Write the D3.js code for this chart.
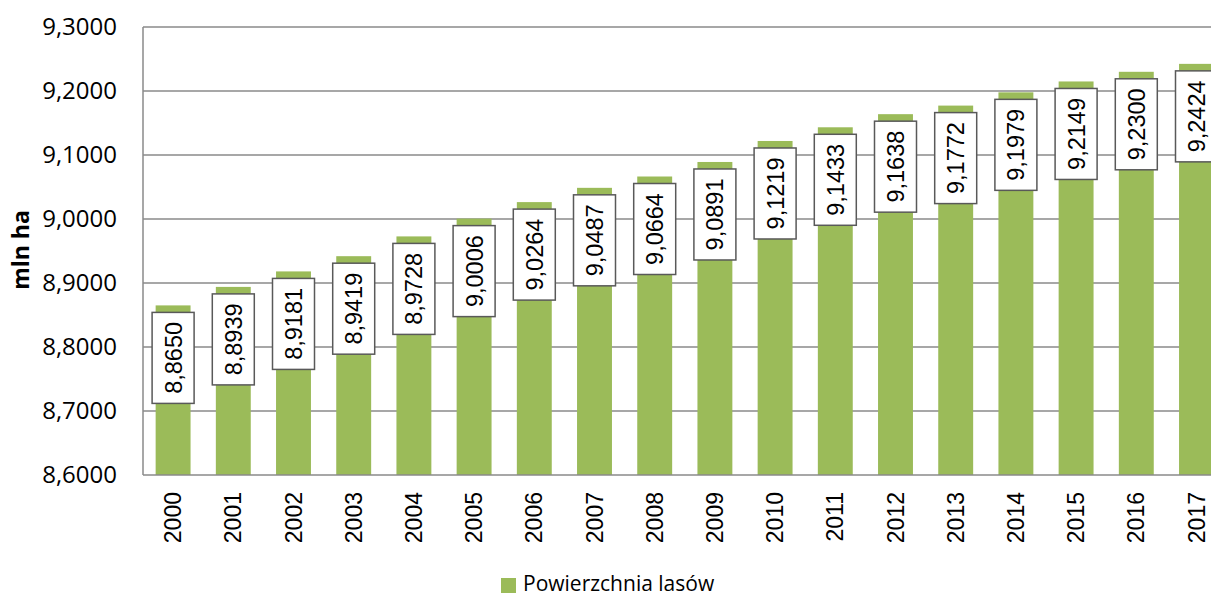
<!DOCTYPE html>
<html>
<head>
<meta charset="utf-8">
<script src="https://cdn.jsdelivr.net/npm/d3@7"></script>
<style>
  body { margin: 0; background: #fff; }
  svg { display: block; }
</style>
</head>
<body>
<div id="chart"></div>
<script>
// data
var years = ["2000","2001","2002","2003","2004","2005","2006","2007","2008",
             "2009","2010","2011","2012","2013","2014","2015","2016","2017"];
var forestArea = [8.8650, 8.8939, 8.9181, 8.9419, 8.9728, 9.0006, 9.0264, 9.0487, 9.0664,
                  9.0891, 9.1219, 9.1433, 9.1638, 9.1772, 9.1979, 9.2149, 9.2300, 9.2424];
var yTicks = [8.6, 8.7, 8.8, 8.9, 9.0, 9.1, 9.2, 9.3];
var seriesName = "Powierzchnia lasów";
var yTitle = "mln ha";

var width = 1211;
var height = 597;
var plotLeft = 143;
var plotTop = 27;
var plotBottom = 475;

var svg = d3.select("#chart")
    .append("svg")
    .attr("width", width)
    .attr("height", height);

var fmt = function(v) {
    return v.toFixed(4).replace(".", ",");
};

// scales
var xScale = d3.scaleBand()
    .domain(years)
    .range([plotLeft, plotLeft + 18 * 60.2])
    .paddingInner(0.42)
    .paddingOuter(0.21);

var yScale = d3.scaleLinear()
    .domain([8.6, 9.3])
    .range([plotBottom, plotTop]);

// gridlines
svg.append("g")
    .selectAll("line")
    .data(yTicks.slice(1))
    .enter()
    .append("line")
    .attr("x1", plotLeft)
    .attr("x2", width)
    .attr("y1", function(d) { return yScale(d); })
    .attr("y2", function(d) { return yScale(d); })
    .attr("stroke", "#8a8a8a")
    .attr("stroke-width", 1.5);

// y axis
var yAxis = d3.axisLeft(yScale)
    .tickValues(yTicks)
    .tickFormat(fmt)
    .tickSize(0)
    .tickPadding(26);

var yG = svg.append("g")
    .attr("transform", `translate(${plotLeft}, 0)`)
    .call(yAxis);
yG.select(".domain").remove();
yG.selectAll("text")
    .attr("font-family", "'Open Sans', sans-serif")
    .attr("font-size", 24)
    .attr("fill", "#000");

// bars
svg.append("g")
    .selectAll("rect")
    .data(forestArea)
    .enter()
    .append("rect")
    .attr("x", function(d, i) { return xScale(years[i]); })
    .attr("y", function(d) { return yScale(d); })
    .attr("width", xScale.bandwidth())
    .attr("height", function(d) { return plotBottom - yScale(d); })
    .attr("fill", "#9bbb59");

// axis lines
svg.append("line")
    .attr("x1", plotLeft).attr("x2", plotLeft)
    .attr("y1", plotTop).attr("y2", plotBottom)
    .attr("stroke", "#8a8a8a")
    .attr("stroke-width", 1.5);
svg.append("line")
    .attr("x1", plotLeft).attr("x2", width)
    .attr("y1", plotBottom).attr("y2", plotBottom)
    .attr("stroke", "#8a8a8a")
    .attr("stroke-width", 1.5);

// x labels
var xAxis = d3.axisBottom(xScale).tickSize(0).tickPadding(0);
var xG = svg.append("g")
    .attr("transform", `translate(0, ${plotBottom})`)
    .call(xAxis);
xG.select(".domain").remove();
xG.selectAll("text")
    .attr("font-family", "'Liberation Sans', Arial, sans-serif")
    .attr("font-size", 23)
    .attr("fill", "#000")
    .attr("text-anchor", "end")
    .attr("y", 0)
    .attr("dy", "0.35em")
    .attr("transform", "translate(0, 17) rotate(-90)");

// data labels
var boxW = 42, boxH = 91;
var labels = svg.append("g")
    .selectAll("g")
    .data(forestArea)
    .enter()
    .append("g")
    .attr("transform", function(d, i) {
        var cx = xScale(years[i]) + xScale.bandwidth() / 2;
        var cy = yScale(d) + 7 + boxH / 2;
        return `translate(${cx}, ${cy})`;
    });

labels.append("rect")
    .attr("x", -boxW / 2)
    .attr("y", -boxH / 2)
    .attr("width", boxW)
    .attr("height", boxH)
    .attr("fill", "#fff")
    .attr("stroke", "#595959")
    .attr("stroke-width", 1.5);

labels.append("text")
    .attr("transform", "rotate(-90)")
    .attr("text-anchor", "middle")
    .attr("dy", "0.36em")
    .attr("font-family", "'Liberation Sans', Arial, sans-serif")
    .attr("font-size", 23.5)
    .attr("fill", "#000")
    .text(function(d) { return fmt(d); });

// y title
svg.append("text")
    .attr("transform", "translate(29, 250) rotate(-90)")
    .attr("text-anchor", "middle")
    .attr("font-family", "'Open Sans', sans-serif")
    .attr("font-weight", "bold")
    .attr("font-size", 23)
    .text(yTitle);

// legend
var legend = svg.append("g").attr("transform", "translate(501, 578)");
legend.append("rect")
    .attr("width", 15)
    .attr("height", 15)
    .attr("fill", "#9bbb59");
legend.append("text")
    .attr("x", 22)
    .attr("y", 13)
    .attr("font-family", "'Open Sans', sans-serif")
    .attr("font-size", 21)
    .attr("fill", "#000")
    .text(seriesName);
</script>
</body>
</html>
